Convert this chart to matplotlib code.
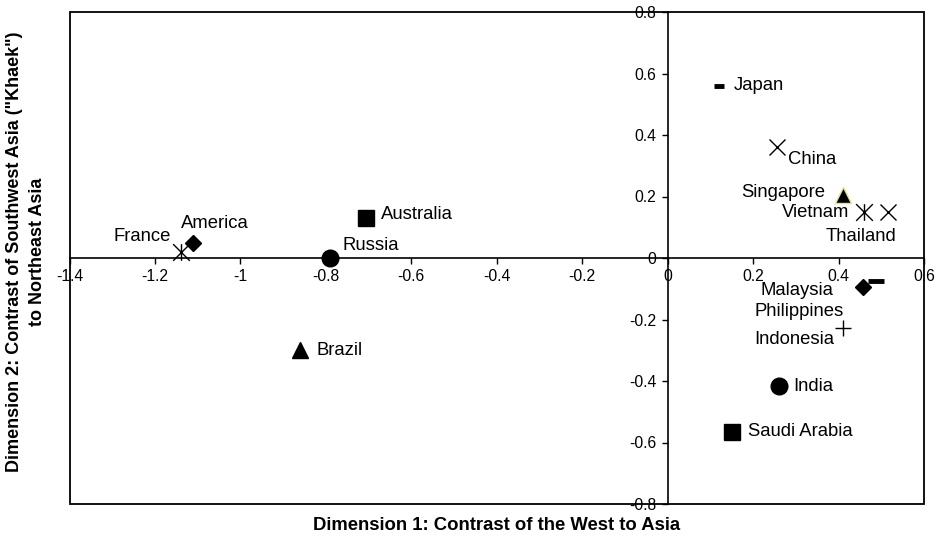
import matplotlib
matplotlib.use("Agg")
import matplotlib.pyplot as plt
from matplotlib.path import Path
from matplotlib.patches import Rectangle
import numpy as np

plt.rcParams['font.family'] = ['Liberation Sans', 'DejaVu Sans']

# data
countries = ["France", "America", "Russia", "Australia", "Brazil",
             "Japan", "China", "Singapore", "Vietnam", "Thailand",
             "Malaysia", "Philippines", "Indonesia", "India", "Saudi Arabia"]
dim1 = [-1.14, -1.11, -0.79, -0.705, -0.86,
        0.12, 0.255, 0.41, 0.46, 0.515,
        0.457, 0.487, 0.41, 0.26, 0.15]
dim2 = [0.02, 0.05, 0.0, 0.13, -0.30,
        0.56, 0.362, 0.205, 0.15, 0.15,
        -0.093, -0.075, -0.228, -0.415, -0.565]

x_ticks = [-1.4, -1.2, -1.0, -0.8, -0.6, -0.4, -0.2, 0.0, 0.2, 0.4, 0.6]
y_ticks = [-0.8, -0.6, -0.4, -0.2, 0.0, 0.2, 0.4, 0.6, 0.8]

# asterisk marker: x with a vertical bar
asterisk = Path([(-1, -1), (1, 1), (-1, 1), (1, -1), (0, -1), (0, 1)],
                [Path.MOVETO, Path.LINETO, Path.MOVETO, Path.LINETO, Path.MOVETO, Path.LINETO])

# marker style per country
styles = {
    "France": dict(marker=asterisk, ms=12, mfc='none', mec='black', mew=1),
    "America": dict(marker='D', ms=8.5, mfc='black', mec='black'),
    "Russia": dict(marker='o', ms=12, mfc='black', mec='black'),
    "Australia": dict(marker='s', ms=11, mfc='black', mec='black'),
    "Brazil": dict(marker='^', ms=12, mfc='black', mec='black'),
    "Japan": dict(marker='_', ms=7, mec='black', mew=3.5),
    "China": dict(marker='x', ms=12, mec='black', mew=1),
    "Singapore": dict(marker='^', ms=11, mfc='black', mec='#ebe38a', mew=1),
    "Vietnam": dict(marker=asterisk, ms=12, mfc='none', mec='black', mew=1),
    "Thailand": dict(marker='x', ms=12, mec='black', mew=1),
    "Malaysia": dict(marker='D', ms=8.5, mfc='black', mec='black'),
    "Philippines": dict(marker='_', ms=12, mec='black', mew=3.5),
    "Indonesia": dict(marker='+', ms=12, mec='black', mew=1),
    "India": dict(marker='o', ms=12, mfc='black', mec='black'),
    "Saudi Arabia": dict(marker='s', ms=12, mfc='black', mec='black'),
}

# label placement (pixel offsets from the point, alignment)
label_pos = {
    "France": (-10, 15, 'right'),
    "America": (-12, 19, 'left'),
    "Russia": (12, 12, 'left'),
    "Australia": (15, 4, 'left'),
    "Brazil": (16, 0, 'left'),
    "Japan": (15, 0, 'left'),
    "China": (11, -13, 'left'),
    "Singapore": (-18, 2, 'right'),
    "Vietnam": (-15, -1, 'right'),
    "Thailand": (9, -25, 'right'),
    "Malaysia": (-30, -4, 'right'),
    "Philippines": (-32, -30, 'right'),
    "Indonesia": (-9, -11, 'right'),
    "India": (15, -1, 'left'),
    "Saudi Arabia": (16, 0, 'left'),
}

W, H = 938, 537
fig = plt.figure(figsize=(W / 100, H / 100), dpi=100)
ax = fig.add_axes([69.5 / W, 1 - 504 / H, (924 - 69.5) / W, (504 - 12) / H])

for name, x, y in zip(countries, dim1, dim2):
    ax.plot([x], [y], linestyle='none', zorder=5, **styles[name])
    dx, dy, ha = label_pos[name]
    ax.annotate(name, (x, y), xytext=(dx, dy), textcoords='offset pixels',
                ha=ha, va='center', fontsize=13.3, zorder=6)

ax.set_xlim(-1.4, 0.6)
ax.set_ylim(-0.8, 0.8)
ax.set_xticks(x_ticks)
ax.set_yticks(y_ticks)
ax.set_xticklabels([f"{v:g}" for v in x_ticks])
ax.set_yticklabels([f"{v:g}" for v in y_ticks])

# axes cross at the origin
ax.spines['left'].set_position(('data', 0))
ax.spines['bottom'].set_position(('data', 0))
ax.spines['top'].set_visible(False)
ax.spines['right'].set_visible(False)
for s in ('left', 'bottom'):
    ax.spines[s].set_linewidth(1.2)
ax.tick_params(direction='out', length=4, width=1, labelsize=11.3, pad=4)

# outer frame
ax.add_patch(Rectangle((0, 0), 1, 1, transform=ax.transAxes, fill=False,
                       edgecolor='black', linewidth=1.3, clip_on=False, zorder=7))

fig.text(497 / W, 1 - 525 / H, "Dimension 1: Contrast of the West to Asia",
         ha='center', va='center', fontsize=13.3, fontweight='bold')
fig.text(26 / W, 1 - 252 / H,
         'Dimension 2: Contrast of Southwest Asia ("Khaek")\nto Northeast Asia',
         ha='center', va='center', rotation=90, fontsize=13, fontweight='bold',
         linespacing=1.45)

fig.savefig("out.png", dpi=100)
